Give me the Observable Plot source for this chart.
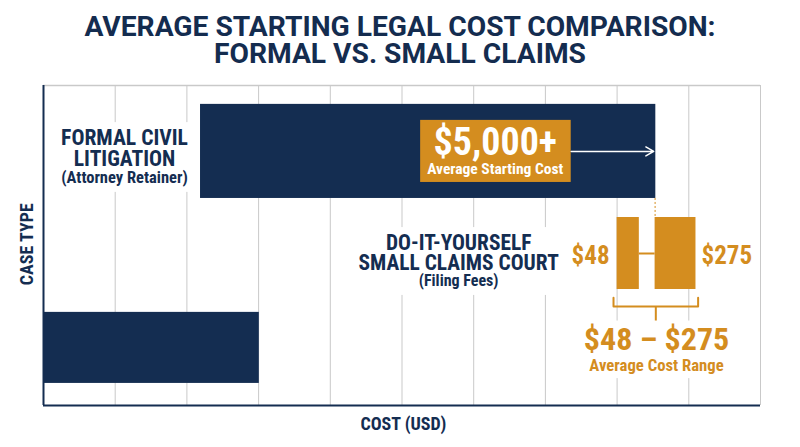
<!DOCTYPE html>
<html><head><meta charset="utf-8">
<script src="https://cdn.jsdelivr.net/npm/d3@7"></script>
<script src="https://cdn.jsdelivr.net/npm/@observablehq/plot@0.6"></script>
<style>
body{margin:0;background:#fff;width:800px;height:447px;overflow:hidden;}
#title{font-family:Roboto,"Liberation Sans",sans-serif;font-weight:700;font-size:28.2px;line-height:27px;color:#142c4f;text-align:center;height:80px;padding-top:13px;box-sizing:border-box;}
</style></head><body>
<div id="title">AVERAGE STARTING LEGAL COST COMPARISON:<br>FORMAL VS. SMALL CLAIMS</div>
<div id="chart"></div>
<script>
const FONT = '"Roboto Condensed","Liberation Sans Narrow","Arial Narrow","DejaVu Sans Condensed",Roboto,sans-serif';
const NAVY = "#142d51";
const ORANGE = "#d48d1f";

// Cost axis grid (relative cost index 0-100) - no tick labels on the chart
const gridTicks = [0, 10, 20, 30, 40, 50, 60, 70, 80, 90, 100];

// Navy bars: case type rows
const barNames = ["Formal Civil Litigation", "Base"];
const barStart = [21.9, 0];
const barEnd = [85.4, 30.1];
const barTop = [5.9, 70.9];
const barBottom = [35.3, 93.1];

// Small claims range (orange)
const rangeNames = ["$48", "$275"];
const rangeStart = [80.0, 85.3];
const rangeEnd = [83.1, 91.0];
const rangeTop = [41.25, 41.25];
const rangeBottom = [63.75, 63.75];
const rangeLabelX = [76.3, 95.3];
const rangeLabelY = [53.4, 53.4];

// texts
const formalLines = ["FORMAL CIVIL", "LITIGATION", "(Attorney Retainer)"];
const formalY = [16.4, 22.9, 28.7];
const formalSize = [21.6, 21.6, 16.5];
const diyLines = ["DO-IT-YOURSELF", "SMALL CLAIMS COURT", "(Filing Fees)"];
const diyY = [49.2, 55.5, 61.1];
const diySize = [21.4, 21.4, 16];

const bars = barNames.map((n, i) => ({n, x1: barStart[i], x2: barEnd[i], y1: barTop[i], y2: barBottom[i]}));
const ranges = rangeNames.map((n, i) => ({n, x1: rangeStart[i], x2: rangeEnd[i], y1: rangeTop[i], y2: rangeBottom[i], lx: rangeLabelX[i], ly: rangeLabelY[i]}));
const formal = formalLines.map((t, i) => ({t, y: formalY[i], s: formalSize[i]}));
const diy = diyLines.map((t, i) => ({t, y: diyY[i], s: diySize[i]}));

const bracket = [[79.5, 66.3], [79.5, 69.1], [91.3, 69.1], [91.3, 66.3]].map(([x, y]) => ({x, y}));

const chart = Plot.plot({
  width: 800, height: 367,
  marginTop: 5, marginRight: 40, marginBottom: 42, marginLeft: 43,
  x: {domain: [0, 100], axis: null},
  y: {domain: [0, 100], reverse: true, axis: null},
  style: {fontFamily: FONT, background: "white"},
  marks: [
    Plot.ruleX(gridTicks, {stroke: "#c9c9c9", strokeWidth: 1}),
    Plot.ruleY([0], {stroke: "#c9c9c9", strokeWidth: 1.5}),
    // white backings behind labels
    Plot.rect([{x1: 2.4, x2: 20.6, y1: 11.6, y2: 33.4}, {x1: 42.8, x2: 72.4, y1: 44.4, y2: 65.6}, {x1: 76.3, x2: 95.1, y1: 73.6, y2: 91.6}],
      {x1: "x1", x2: "x2", y1: "y1", y2: "y2", fill: "white"}),
    Plot.rect(bars, {x1: "x1", x2: "x2", y1: "y1", y2: "y2", fill: NAVY}),
    Plot.ruleX([0], {stroke: NAVY, strokeWidth: 2}),
    Plot.ruleY([100], {stroke: NAVY, strokeWidth: 2}),
    // $5,000+ callout
    Plot.rect([{x1: 52.6, x2: 73.6, y1: 10.9, y2: 30.3}], {x1: "x1", x2: "x2", y1: "y1", y2: "y2", fill: ORANGE}),
    Plot.text(["$5,000+"], {x: 63.0, y: 17.9, text: d => d, fill: "white", fontSize: 38, fontWeight: 700, fontFamily: FONT, lineAnchor: "middle"}),
    Plot.text(["Average Starting Cost"], {x: 63.0, y: 26.2, text: d => d, fill: "white", fontSize: 15.5, fontWeight: 700, fontFamily: FONT, lineAnchor: "middle"}),
    Plot.arrow([{x1: 73.6, y1: 20.6, x2: 85.1, y2: 20.6}], {x1: "x1", y1: "y1", x2: "x2", y2: "y2", stroke: "white", strokeWidth: 1.5, headLength: 9}),
    // formal label
    Plot.text(formal, {x: 11.3, y: "y", text: "t", fontSize: "s", fill: NAVY, fontWeight: 700, fontFamily: FONT, lineAnchor: "middle"}),
    // diy label
    Plot.text(diy, {x: 57.9, y: "y", text: "t", fontSize: "s", fill: NAVY, fontWeight: 700, fontFamily: FONT, lineAnchor: "middle"}),
    // range
    Plot.ruleX([85.3], {y1: 35.3, y2: 41.3, stroke: ORANGE, strokeWidth: 1, strokeDasharray: "2,2"}),
    Plot.rect(ranges, {x1: "x1", x2: "x2", y1: "y1", y2: "y2", fill: ORANGE}),
    Plot.ruleY([52.5], {x1: 83.1, x2: 85.3, stroke: ORANGE, strokeWidth: 2}),
    Plot.text(ranges, {x: "lx", y: "ly", text: "n", fill: ORANGE, fontSize: 25, fontWeight: 700, fontFamily: FONT, lineAnchor: "middle"}),
    Plot.line(bracket, {x: "x", y: "y", stroke: ORANGE, strokeWidth: 2}),
    Plot.ruleX([85.4], {y1: 69.1, y2: 73.6, stroke: ORANGE, strokeWidth: 2}),
    Plot.text(["$48 – $275"], {x: 85.5, y: 79.5, text: d => d, fill: ORANGE, fontSize: 32, fontWeight: 700, fontFamily: FONT, lineAnchor: "middle"}),
    Plot.text(["Average Cost Range"], {x: 85.5, y: 87.4, text: d => d, fill: ORANGE, fontSize: 16.7, fontWeight: 700, fontFamily: FONT, lineAnchor: "middle"}),
    // axis labels
    Plot.text(["COST (USD)"], {x: 50.2, y: 105.8, text: d => d, fill: NAVY, fontSize: 18, fontWeight: 700, fontFamily: FONT, lineAnchor: "middle"}),
    Plot.text(["CASE TYPE"], {x: -2.2, y: 49.6, text: d => d, fill: NAVY, fontSize: 18, fontWeight: 700, fontFamily: FONT, lineAnchor: "middle", rotate: -90})
  ]
});
document.getElementById("chart").appendChild(chart);
</script>
</body></html>
